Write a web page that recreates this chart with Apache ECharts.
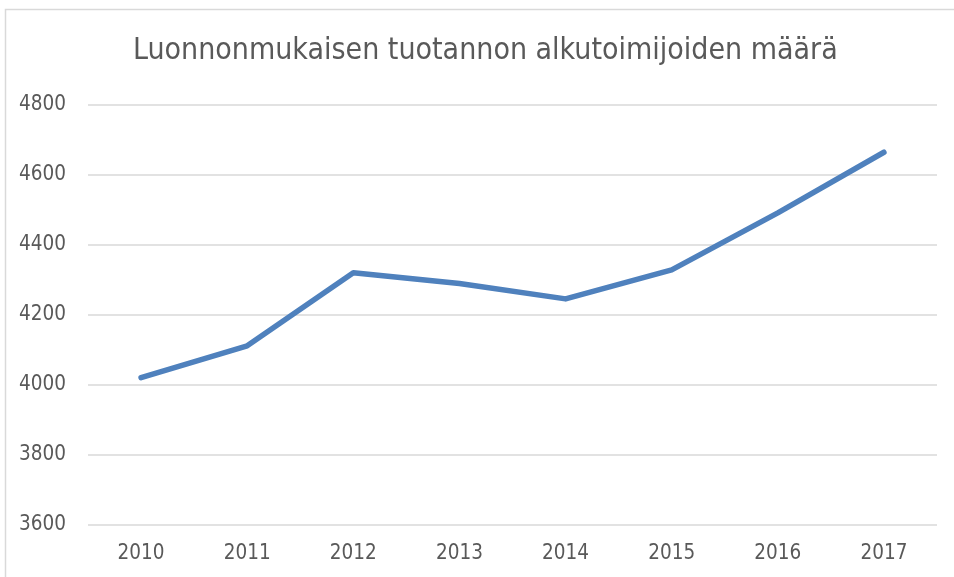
<!DOCTYPE html>
<html>
<head>
<meta charset="utf-8">
<script src="https://cdn.jsdelivr.net/npm/echarts@6/dist/echarts.min.js"></script>
<style>
html,body{margin:0;padding:0;background:#fff;}
#chart{width:954px;height:577px;}
</style>
</head>
<body>
<div id="chart"></div>
<script>
const titleText = 'Luonnonmukaisen tuotannon alkutoimijoiden määrä';
const years = ['2010','2011','2012','2013','2014','2015','2016','2017'];
const values = [4021, 4112, 4321, 4290, 4246, 4329, 4492, 4665];
const yMin = 3600, yMax = 4800, yStep = 200;

const FONT = '"DejaVu Sans Condensed", "Liberation Sans", Arial, sans-serif';
const chart = echarts.init(document.getElementById('chart'));
chart.setOption({
  animation: false,
  backgroundColor: '#ffffff',
  graphic: [{
    type: 'polyline',
    shape: { points: [[5.5, 600], [5.5, 9.5], [960, 9.5]] },
    style: { stroke: '#d9d9d9', lineWidth: 1.5, fill: null },
    silent: true
  }],
  title: {
    text: titleText,
    left: 133,
    top: 36,
    padding: 0,
    textStyle: { fontFamily: FONT, fontSize: 30, fontWeight: 'normal', color: '#595959' }
  },
  grid: { left: 88, right: 17, top: 105, bottom: 52, containLabel: false },
  xAxis: {
    type: 'category',
    data: years,
    boundaryGap: true,
    axisLine: { show: false },
    axisTick: { show: false },
    axisLabel: { margin: 18, fontFamily: FONT, fontSize: 20.5, color: '#595959' }
  },
  yAxis: {
    type: 'value',
    min: yMin, max: yMax, interval: yStep,
    axisLine: { show: false },
    axisTick: { show: false },
    splitLine: { lineStyle: { color: '#d9d9d9', width: 1.5 } },
    axisLabel: { margin: 22, fontFamily: FONT, fontSize: 20.5, color: '#595959', padding: [3, 0, 0, 0], formatter: v => String(v) }
  },
  series: [{
    type: 'line',
    data: values,
    symbol: 'none',
    lineStyle: { color: '#4f81bd', width: 5.5, cap: 'round', join: 'round' }
  }]
});
</script>
</body>
</html>
